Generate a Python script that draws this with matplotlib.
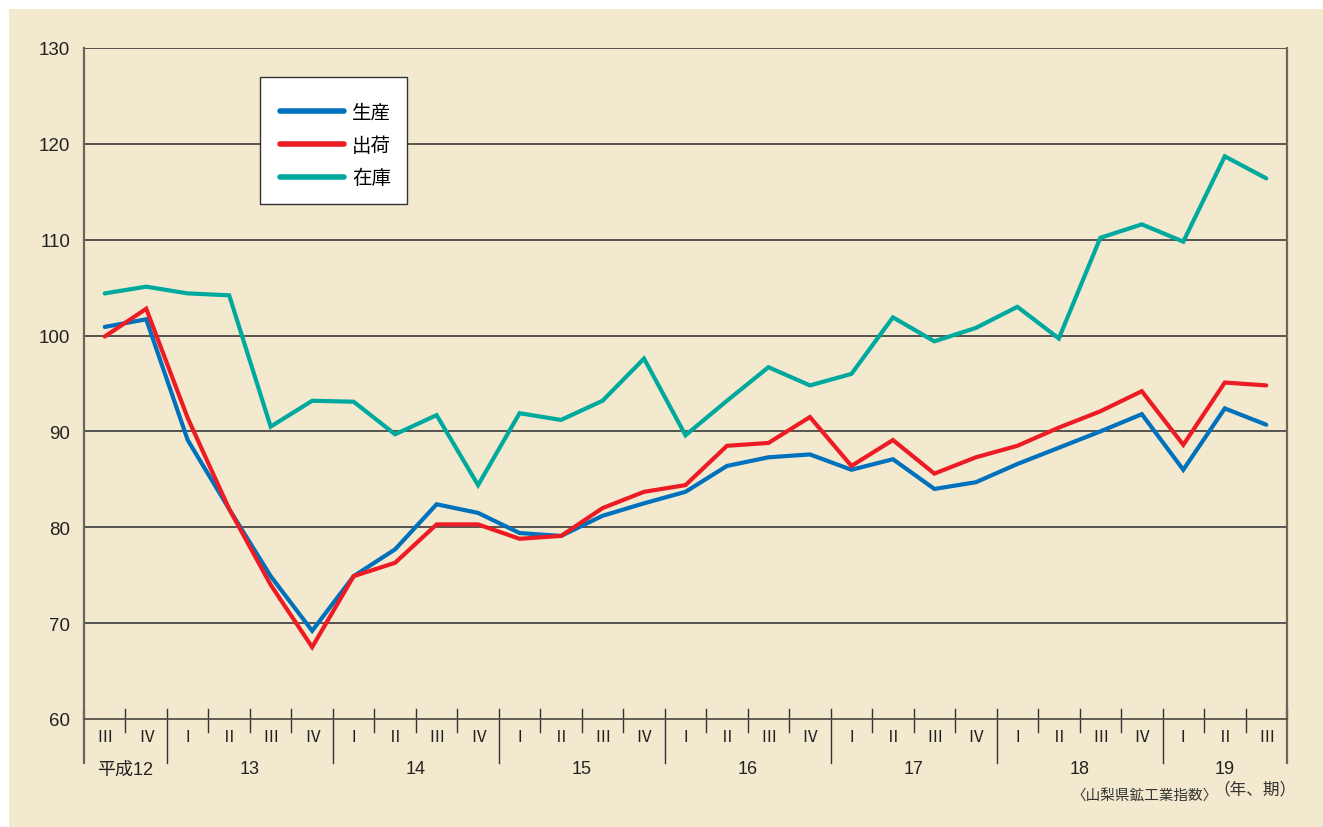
import matplotlib
matplotlib.use('Agg')
from matplotlib import pyplot as plt
from matplotlib.patches import Rectangle
import numpy as np

plt.rcParams['font.family'] = ['Liberation Sans', 'Noto Sans CJK JP']

# 平成12年III期 〜 平成19年III期 (quarterly)
years = ['平成12', '13', '14', '15', '16', '17', '18', '19']
year_quarters = [['Ⅲ', 'Ⅳ'],
                 ['Ⅰ', 'Ⅱ', 'Ⅲ', 'Ⅳ'],
                 ['Ⅰ', 'Ⅱ', 'Ⅲ', 'Ⅳ'],
                 ['Ⅰ', 'Ⅱ', 'Ⅲ', 'Ⅳ'],
                 ['Ⅰ', 'Ⅱ', 'Ⅲ', 'Ⅳ'],
                 ['Ⅰ', 'Ⅱ', 'Ⅲ', 'Ⅳ'],
                 ['Ⅰ', 'Ⅱ', 'Ⅲ', 'Ⅳ'],
                 ['Ⅰ', 'Ⅱ', 'Ⅲ']]

production = [100.9, 101.7, 89.1, 81.9, 74.9, 69.2, 74.9, 77.7, 82.4, 81.5,
              79.4, 79.1, 81.2, 82.5, 83.7, 86.4, 87.3, 87.6, 86.0, 87.1,
              84.0, 84.7, 86.6, 88.3, 90.0, 91.8, 86.0, 92.4, 90.7]
shipments = [99.9, 102.8, 91.4, 81.9, 74.0, 67.5, 74.9, 76.3, 80.3, 80.3,
             78.8, 79.1, 82.0, 83.7, 84.4, 88.5, 88.8, 91.5, 86.4, 89.1,
             85.6, 87.3, 88.5, 90.4, 92.1, 94.2, 88.6, 95.1, 94.8]
inventory = [104.4, 105.1, 104.4, 104.2, 90.5, 93.2, 93.1, 89.7, 91.7, 84.4,
             91.9, 91.2, 93.2, 97.6, 89.6, 93.2, 96.7, 94.8, 96.0, 101.9,
             99.4, 100.8, 103.0, 99.7, 110.2, 111.6, 109.8, 118.7, 116.4]

series = [('生産', production, '#0071bc'),
          ('出荷', shipments, '#ed1c24'),
          ('在庫', inventory, '#00a99d')]

cream = '#f2e9cf'
W, H = 1323, 828
fig = plt.figure(figsize=(W / 100, H / 100), dpi=100, facecolor='white')
fig.patches.append(Rectangle((9 / W, 0.5 / H), 1, (H - 10.5) / H,
                             transform=fig.transFigure, facecolor=cream,
                             edgecolor='none', zorder=-10))

ax_h = 720 - 49
ax = fig.add_axes([84 / W, (H - 720) / H, (1287 - 84) / W, ax_h / H])
ax.set_facecolor(cream)

quarter_labels = [q for qs in year_quarters for q in qs]
n = len(quarter_labels)
x = np.arange(n) + 0.5

for name, vals, col in series:
    ax.plot(x, vals, color=col, lw=3.0, label=name, solid_capstyle='round',
            solid_joinstyle='miter', zorder=3)

ax.set_xlim(0, n)
ax.set_ylim(60, 130)
ax.set_yticks(np.arange(60, 131, 10))
ax.tick_params(axis='y', length=0, pad=10, labelsize=13.5, labelcolor='#222222')
ax.set_xticks([])
for yv in np.arange(70, 131, 10):
    ax.axhline(yv, color='#2b2b2b', lw=1.1, zorder=1)

for s in ['top', 'bottom']:
    ax.spines[s].set_visible(False)
for s in ['left', 'right']:
    ax.spines[s].set_color('#6b675c')
    ax.spines[s].set_linewidth(1.6)

trans = ax.get_xaxis_transform()
# x-axis line
ax.plot([0, n], [0, 0], transform=trans, color='#55524a', lw=1.3,
        clip_on=False, zorder=4)

# tick marks: quarter boundaries and longer year boundaries
bounds = np.cumsum([0] + [len(q) for q in year_quarters])
up = 10 / ax_h
for b in range(1, n):
    if b in bounds:
        continue
    ax.plot([b, b], [-13 / ax_h, up], transform=trans, color='#333333',
            lw=1.0, clip_on=False)
for b in bounds:
    ax.plot([b, b], [-44 / ax_h, up], transform=trans,
            color='#333333' if 0 < b < n else '#6b675c',
            lw=1.0 if 0 < b < n else 1.6, clip_on=False)

for xi, q in zip(x, quarter_labels):
    ax.text(xi, -18 / ax_h, q, transform=trans, ha='center', va='center',
            fontsize=12, color='#222222', family=['Noto Sans CJK JP'])

for i, yl in enumerate(years):
    ax.text((bounds[i] + bounds[i + 1]) / 2, -50 / ax_h, yl, transform=trans,
            ha='center', va='center', fontsize=13, color='#222222')

fig.text(1218 / W, 1 - 797 / H, '〈山梨県鉱工業指数〉', ha='right', va='center',
         fontsize=10.5, color='#333333', family=['Noto Sans CJK JP'])
fig.text(1255 / W, 1 - 790 / H, '（年、期）', ha='center', va='center',
         fontsize=12, color='#333333', family=['Noto Sans CJK JP'])

# legend: box drawn separately, entries placed inside it
ax.add_patch(Rectangle((260 / W, 1 - 205 / H), 147 / W, 127 / H,
                       transform=fig.transFigure, facecolor='white',
                       edgecolor='#333333', lw=1.0, zorder=5, clip_on=False))
leg = ax.legend(loc='upper left', bbox_to_anchor=(280 / W, 1 - 103 / H),
                bbox_transform=fig.transFigure,
                prop={'family': ['Noto Sans CJK JP'], 'size': 14},
                handlelength=3.3, handletextpad=0.4, borderpad=0,
                labelspacing=0.6, borderaxespad=0, frameon=False)
leg.set_zorder(6)
for line in leg.get_lines():
    line.set_linewidth(4)

fig.savefig('out.png', dpi=100, facecolor='white')
